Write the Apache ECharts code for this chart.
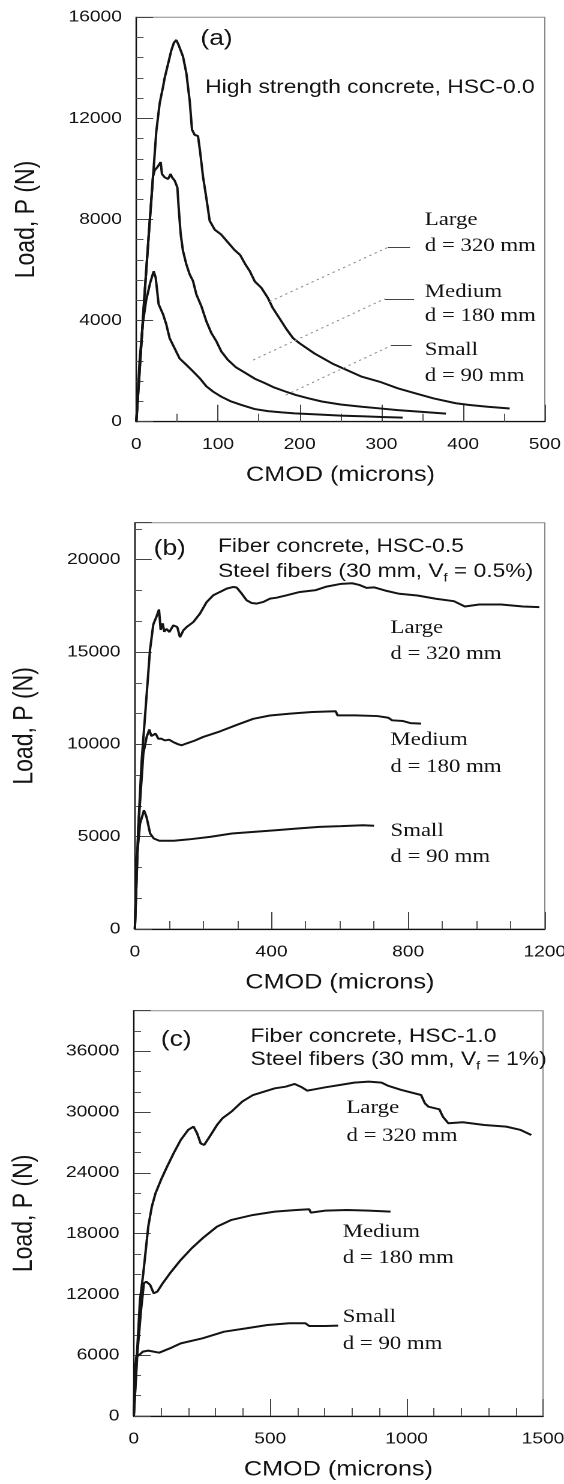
<!DOCTYPE html>
<html>
<head>
<meta charset="utf-8">
<title>Load vs CMOD</title>
<script src="https://cdn.jsdelivr.net/npm/echarts@6/dist/echarts.min.js"></script>
<style>
  html, body { margin: 0; padding: 0; background: #fff; overflow: hidden; }
  /* the source figure is stretched horizontally, so the chart is drawn narrow and widened */
  #chart { width: 470px; height: 1484px; transform: scaleX(1.2); transform-origin: 0 0; }
</style>
</head>
<body>
<div id="chart"></div>
<script>
// ---- data: [CMOD (microns), load (N)] ----
const aLarge = [[0,0],[5,2500],[10,5000],[15,7300],[20,9500],[24.5,11500],[28.6,12600],[32.7,13250],[34.7,13600],[38.8,14150],[42.9,14700],[46.1,15000],[49,15100],[51.8,14900],[57.1,14450],[61.2,13800],[65.3,12700],[68.2,11550],[71.4,11350],[75.5,11300],[78.4,10600],[81.6,9700],[85.7,8850],[89.8,7950],[95.9,7600],[104,7400],[112,7100],[120,6800],[127,6600],[133,6250],[139,5950],[145,5550],[153,5300],[161,4900],[167,4500],[176,4050],[184,3650],[192,3300],[200,3100],[218,2700],[240,2300],[262,1980],[276,1780],[298,1580],[320,1320],[342,1120],[364,920],[391,730],[408,660],[430,590],[457,520]];
const aMedium = [[0,0],[5,2500],[10,5000],[15,7300],[20.4,9700],[22.4,9940],[25.7,10070],[27.8,10135],[29.8,10270],[31.4,9800],[34.7,9670],[38.8,9600],[42,9800],[43.7,9670],[46.9,9540],[50.2,9275],[51.8,8480],[54.3,7420],[57.1,6760],[61.2,6230],[65.3,5830],[69.4,5565],[73.5,5035],[79.6,4570],[85.7,3975],[91.8,3510],[98,3180],[104,2780],[112,2450],[122,2150],[135,1900],[145,1700],[157,1530],[169,1350],[182,1200],[195,1060],[210,930],[227,800],[250,680],[276,590],[300,520],[320,460],[350,390],[379,320]];
const aSmall = [[0,0],[4,2400],[8,3900],[12,4800],[17,5500],[21.2,5950],[23.7,5700],[27.3,4650],[32.7,4250],[36.7,3850],[40.8,3300],[46.9,2900],[53,2500],[61.2,2250],[69.4,1990],[77.6,1720],[85.7,1400],[94,1190],[104,990],[116,800],[129,660],[145,500],[161,420],[178,370],[194,330],[220,290],[250,240],[280,210],[300,185],[326,160]];

const bLarge = [[0,0],[10,5500],[19.8,9100],[34.5,12700],[44.2,15100],[54,16500],[63,16900],[70.6,17300],[75.4,16200],[81.2,16550],[86,16100],[93,16250],[100.8,16080],[112.5,16440],[124,16350],[132,15800],[141.8,16170],[151.6,16350],[171,16620],[190.6,17080],[210,17700],[229.6,18070],[249,18250],[268.7,18430],[288,18520],[298,18490],[312.6,18160],[327,17800],[342,17650],[356.6,17620],[376,17710],[395.5,17890],[415,17940],[444,18070],[483,18250],[530,18350],[561,18540],[604,18690],[636,18720],[657,18630],[678,18470],[700,18500],[732,18330],[774,18150],[827,18060],[881,17880],[934,17750],[966,17460],[1008,17570],[1072,17570],[1136,17460],[1184,17430]];
const bMedium = [[0,0],[10,5500],[24.7,9500],[34.5,10400],[42.3,10800],[48,10450],[54,10400],[60.7,10580],[68.6,10300],[76.7,10310],[88,10210],[100,10250],[112.5,10120],[127,10000],[137,9950],[151.6,10050],[175,10200],[200,10400],[249,10700],[298,11050],[346.6,11380],[395.5,11560],[455,11660],[519,11750],[588,11790],[593,11570],[646,11570],[710,11530],[742,11440],[753,11300],[785,11260],[806,11150],[838,11120]];
const bSmall = [[0,0],[5.1,3700],[15,5700],[24.7,6300],[26.6,6430],[34,6070],[44.7,5170],[55.4,4900],[71.4,4780],[114,4780],[156.5,4850],[220,4990],[284,5170],[348,5260],[412,5350],[476,5440],[540,5530],[604,5570],[668,5620],[700,5590]];

const cLarge = [[0,0],[11,5800],[22.7,11450],[34.8,14100],[53,18690],[66,20660],[79.5,21980],[99.4,23290],[119,24440],[146,25930],[172,27240],[199,28230],[219,28560],[232,27900],[245,26910],[258,26750],[278,27570],[305,28720],[325,29380],[358,30040],[397.5,31030],[437,31680],[477,32010],[517,32340],[556.5,32500],[589.6,32770],[616,32440],[636,32110],[662.5,32240],[702,32440],[755,32670],[808,32900],[861,33000],[908,32900],[934,32570],[980.5,32180],[1053,31680],[1067,30860],[1080,30530],[1120,30270],[1133,29540],[1153,28890],[1206,28990],[1285,28720],[1365,28560],[1418,28230],[1457,27730]];
const cMedium = [[0,0],[13,6200],[26.5,10460],[37,13100],[46,13260],[60,12930],[73,12110],[86,12270],[106,13100],[132.5,14080],[172,15400],[212,16550],[252,17540],[305,18690],[358,19350],[437,19840],[517,20170],[596,20330],[643,20400],[649,20070],[702,20270],[782,20330],[861,20270],[941,20170]];
const cSmall = [[0,0],[2.6,3880],[9.3,5860],[20,6020],[33,6350],[53,6450],[93,6250],[132.5,6680],[172,7170],[252,7670],[331,8320],[411,8650],[490,8980],[570,9150],[629,9150],[643,8880],[702,8880],[749,8920]];

// leader lines in panel (a): dotted part toward the curve, short solid part by the label
const leadLarge = [[163,4750],[308,6900],[335,6900]];
const leadMedium = [[143,2440],[304,4860],[340,4860]];
const leadSmall = [[183,1055],[312,3010],[337,3010]];

// axis ranges and tick spacing
const xMax = [500, 1200, 1500];
const xStep = [100, 400, 500];
const xMinor = [2, 4, 5];
const yMax = [16000, 22000, 40000];
const yStep = [4000, 5000, 6000];
const yMinor = [5, 3, 3];

const sans = "'Liberation Sans', Arial, sans-serif";
const serif = "'Liberation Serif', 'Times New Roman', serif";
const ink = '#141414';

const chart = echarts.init(document.getElementById('chart'), null, { devicePixelRatio: 2 });

const grids = [
  { left: 113.6, top: 17.3, width: 340.4, height: 404.4 },
  { left: 112.4, top: 522.7, width: 341.6, height: 406.3 },
  { left: 111.5, top: 1010.7, width: 341, height: 405.3 }
].map(g => Object.assign(g, { show: true, borderColor: '#8a8a8a', borderWidth: 1, outerBoundsMode: 'none' }));

const plain = v => String(v);

const xAxes = [0, 1, 2].map(i => ({
  type: 'value', gridIndex: i, min: 0, max: xMax[i], interval: xStep[i],
  name: 'CMOD (microns)', nameLocation: 'middle', nameGap: 43,
  nameTextStyle: { fontFamily: sans, fontSize: 21, color: ink },
  axisLine: { onZero: false, lineStyle: { color: '#111', width: 1.2 } },
  axisTick: { inside: true, length: 17, lineStyle: { color: '#444' } },
  minorTick: { show: true, splitNumber: xMinor[i], length: 8, lineStyle: { color: '#555' } },
  axisLabel: { fontFamily: sans, fontSize: 16, color: ink, margin: 15, formatter: plain },
  splitLine: { show: false }
}));

const yAxes = [0, 1, 2].map(i => ({
  type: 'value', gridIndex: i, min: 0, max: yMax[i], interval: yStep[i],
  name: 'Load, P (N)', nameLocation: 'middle', nameGap: 80, nameRotate: 90,
  nameTextStyle: { fontFamily: sans, fontSize: 23, color: ink },
  axisLine: { onZero: false, lineStyle: { color: '#111', width: 1.2 } },
  axisTick: { inside: true, length: 14, lineStyle: { color: '#444' } },
  minorTick: { show: true, splitNumber: yMinor[i], length: 6, lineStyle: { color: '#555' } },
  axisLabel: { fontFamily: sans, fontSize: 16, color: ink, margin: 12, showMaxLabel: i === 0, formatter: plain },
  splitLine: { show: false }
}));

function curve(data, gi) {
  return {
    type: 'line', data: data, xAxisIndex: gi, yAxisIndex: gi,
    showSymbol: false, symbol: 'none', animation: false, silent: true,
    lineStyle: { color: ink, width: 2 }
  };
}

function leader(pts) {
  return [
    [{ coord: pts[0] }, { coord: pts[1], lineStyle: { type: [2, 3], color: '#8c8c8c', width: 1 } }],
    [{ coord: pts[1] }, { coord: pts[2], lineStyle: { type: 'solid', color: '#444', width: 1 } }]
  ];
}

const series = [
  curve(aLarge, 0), curve(aMedium, 0), curve(aSmall, 0),
  curve(bLarge, 1), curve(bMedium, 1), curve(bSmall, 1),
  curve(cLarge, 2), curve(cMedium, 2), curve(cSmall, 2)
];
series[0].markLine = {
  symbol: 'none', silent: true, animation: false, label: { show: false },
  data: [].concat(leader(leadLarge), leader(leadMedium), leader(leadSmall))
};

function txt(x, y, text, font, size) {
  return {
    type: 'text', x: x, y: y, silent: true,
    style: { text: text, fontFamily: font, fontSize: size, fill: ink, textVerticalAlign: 'middle' }
  };
}
function fibers(x, y, pct) {
  return {
    type: 'text', x: x, y: y, silent: true,
    style: {
      text: '{n|Steel fibers (30 mm, V}{s|f}{n| = ' + pct + ')}',
      textVerticalAlign: 'middle', fill: ink,
      rich: {
        n: { fontFamily: sans, fontSize: 19, lineHeight: 24, fill: ink },
        s: { fontFamily: sans, fontSize: 12, verticalAlign: 'bottom', fill: ink }
      }
    }
  };
}

const graphic = [
  txt(167, 39, '(a)', sans, 22),
  txt(171, 88, 'High strength concrete, HSC-0.0', sans, 19),
  txt(354, 220, 'Large', serif, 19), txt(354, 246, 'd = 320 mm', serif, 19),
  txt(354, 292, 'Medium', serif, 19), txt(354, 316, 'd = 180 mm', serif, 19),
  txt(354, 350, 'Small', serif, 19), txt(354, 376, 'd = 90 mm', serif, 19),

  txt(128, 549, '(b)', sans, 22),
  txt(181.7, 547, 'Fiber concrete, HSC-0.5', sans, 19),
  fibers(181.7, 572, '0.5%'),
  txt(325.4, 628, 'Large', serif, 19), txt(325.4, 654, 'd = 320 mm', serif, 19),
  txt(325.4, 740, 'Medium', serif, 19), txt(325.4, 767, 'd = 180 mm', serif, 19),
  txt(325.4, 831, 'Small', serif, 19), txt(325.4, 857, 'd = 90 mm', serif, 19),

  txt(134, 1040, '(c)', sans, 22),
  txt(208.8, 1037, 'Fiber concrete, HSC-1.0', sans, 19),
  fibers(208.8, 1060, '1%'),
  txt(288.7, 1108, 'Large', serif, 19), txt(288.7, 1136, 'd = 320 mm', serif, 19),
  txt(285.6, 1232, 'Medium', serif, 19), txt(285.6, 1258, 'd = 180 mm', serif, 19),
  txt(285.6, 1317, 'Small', serif, 19), txt(285.6, 1344, 'd = 90 mm', serif, 19)
];

chart.setOption({
  animation: false,
  backgroundColor: '#fff',
  grid: grids,
  xAxis: xAxes,
  yAxis: yAxes,
  series: series,
  graphic: graphic
});
</script>
</body>
</html>
